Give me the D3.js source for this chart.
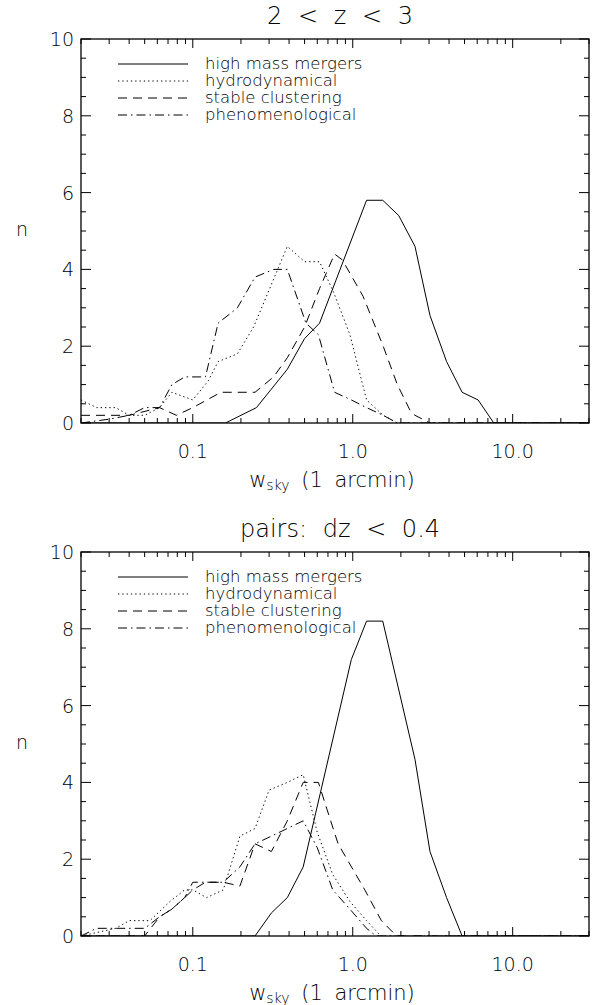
<!DOCTYPE html>
<html><head><meta charset="utf-8">
<script src="https://cdn.jsdelivr.net/npm/d3@7"></script>
<style>
body{margin:0;background:#fff}
text{font-family:"DejaVu Sans","Liberation Sans",sans-serif;font-weight:200;fill:#000}
</style>
</head><body>
<svg id="c" width="600" height="1005"></svg>
<script>
// ---- data ----
const seriesNames = ["high mass mergers", "hydrodynamical", "stable clustering", "phenomenological"];
const panelTitles = ["2 < z < 3", "pairs: dz < 0.4"];
const xTickValues = [0.1, 1, 10];
const xTickLabels = ["0.1", "1.0", "10.0"];
const yTickValues = [0, 2, 4, 6, 8, 10];
const yTickLabels = ["0", "2", "4", "6", "8", "10"];

// panel 1: 2 < z < 3   ([w_sky, n])
const zMergers = [[0.02,0],[0.16,0],[0.25,0.4],[0.39,1.4],[0.50,2.2],[0.62,2.6],[1.22,5.8],[1.54,5.8],[1.94,5.4],[2.45,4.6],[3.04,2.8],[3.86,1.6],[4.83,0.8],[6.08,0.6],[7.62,0],[30,0]];
const zHydro = [[0.02,0.6],[0.025,0.4],[0.033,0.4],[0.04,0.2],[0.05,0.2],[0.062,0.4],[0.074,0.8],[0.10,0.6],[0.125,1.1],[0.144,1.6],[0.19,1.8],[0.24,2.5],[0.39,4.6],[0.50,4.2],[0.62,4.2],[0.76,3.4],[0.96,2.3],[1.22,0.6],[1.55,0.2],[1.9,0],[30,0]];
const zStable = [[0.02,0.2],[0.04,0.2],[0.062,0.4],[0.079,0.2],[0.10,0.4],[0.15,0.8],[0.245,0.8],[0.32,1.2],[0.39,1.7],[0.50,2.5],[0.62,3.5],[0.77,4.4],[0.86,4.25],[1.16,3.3],[1.55,2.0],[1.9,1.0],[2.3,0.3],[2.45,0.2],[3.04,0],[30,0]];
const zPheno = [[0.02,0],[0.03,0.1],[0.04,0.2],[0.05,0.4],[0.062,0.4],[0.074,1.0],[0.089,1.2],[0.12,1.2],[0.144,2.6],[0.19,3.0],[0.245,3.8],[0.32,4.0],[0.39,4.0],[0.51,2.6],[0.61,2.3],[0.77,0.8],[0.98,0.6],[1.22,0.4],[1.55,0.2],[1.9,0],[30,0]];

// panel 2: pairs dz < 0.4
const pMergers = [[0.02,0],[0.245,0],[0.31,0.6],[0.39,1.0],[0.49,1.8],[0.98,7.2],[1.22,8.2],[1.54,8.2],[2.45,4.6],[3.04,2.2],[3.86,1.0],[4.83,0],[30,0]];
const pHydro = [[0.02,0],[0.033,0.2],[0.04,0.4],[0.054,0.4],[0.072,0.9],[0.089,1.2],[0.10,1.2],[0.122,1.0],[0.155,1.2],[0.197,2.6],[0.245,2.8],[0.30,3.8],[0.39,4.0],[0.49,4.2],[0.6,2.7],[0.75,1.6],[0.96,0.9],[1.22,0.4],[1.5,0],[30,0]];
const pStable = [[0.02,0],[0.05,0],[0.062,0.5],[0.074,0.7],[0.089,1.0],[0.10,1.2],[0.12,1.4],[0.155,1.4],[0.197,1.3],[0.245,2.4],[0.31,2.2],[0.39,3.0],[0.49,4.0],[0.61,4.0],[0.69,3.3],[0.81,2.4],[1.19,1.2],[1.51,0.4],[1.88,0],[30,0]];
const pPheno = [[0.02,0],[0.025,0.2],[0.05,0.2],[0.062,0.5],[0.074,0.7],[0.089,1.0],[0.10,1.4],[0.155,1.4],[0.197,1.8],[0.245,2.4],[0.31,2.6],[0.39,2.8],[0.49,3.0],[0.6,2.3],[0.75,1.2],[0.96,0.7],[1.22,0.2],[1.4,0],[30,0]];

const panelSeries = [[zMergers, zHydro, zStable, zPheno], [pMergers, pHydro, pStable, pPheno]];

// ---- styles ----
const dashes = [null, "1.3,3", "9,6", "9,4,1.5,4"];
const panelTops = [39, 552];
const H = 384, L = 81, R = 589;

const svg = d3.select("#c");
const x = d3.scaleLog().domain([0.02, 30]).range([L, R]);

// minor tick positions for log axis
const minorX = [];
[0.01, 0.1, 1, 10].forEach(d => { for (let m = 1; m <= 9; m++) { const v = m * d; if (v >= 0.02 - 1e-9 && v <= 30 + 1e-9) minorX.push(v); } });
const minorY = d3.range(0, 10.01, 0.5);

panelTops.forEach((top, pi) => {
  const y = d3.scaleLinear().domain([0, 10]).range([top + H, top]);
  const g = svg.append("g");
  const cid = "clip" + pi;
  g.append("clipPath").attr("id", cid).append("rect")
    .attr("x", L).attr("y", top).attr("width", R - L).attr("height", H);

  const line = d3.line().x(d => x(d[0])).y(d => y(d[1]));
  panelSeries[pi].forEach((s, si) => {
    g.append("path").attr("d", line(s)).attr("clip-path", `url(#${cid})`)
      .attr("fill", "none").attr("stroke", "#000").attr("stroke-width", 1)
      .attr("stroke-dasharray", dashes[si]);
  });

  // frame
  g.append("rect").attr("x", L).attr("y", top).attr("width", R - L).attr("height", H)
    .attr("fill", "none").attr("stroke", "#000").attr("stroke-width", 1.3);

  // x ticks (bottom and top, inward)
  minorX.forEach(v => {
    const major = xTickValues.some(t => Math.abs(t - v) < 1e-9);
    const len = major ? 9 : 5;
    const px = x(v);
    g.append("line").attr("x1", px).attr("x2", px).attr("y1", top + H).attr("y2", top + H - len).attr("stroke", "#000");
    g.append("line").attr("x1", px).attr("x2", px).attr("y1", top).attr("y2", top + len).attr("stroke", "#000");
  });
  // y ticks
  minorY.forEach(v => {
    const major = yTickValues.some(t => Math.abs(t - v) < 1e-9);
    const len = major ? 10 : 5;
    const py = y(v);
    g.append("line").attr("x1", L).attr("x2", L + len).attr("y1", py).attr("y2", py).attr("stroke", "#000");
    g.append("line").attr("x1", R).attr("x2", R - len).attr("y1", py).attr("y2", py).attr("stroke", "#000");
  });

  // tick labels
  xTickValues.forEach((v, i) => {
    g.append("text").attr("x", x(v)).attr("y", top + H + 35).attr("text-anchor", "middle")
      .attr("font-size", 19).text(xTickLabels[i]);
  });
  yTickValues.forEach((v, i) => {
    g.append("text").attr("x", 74).attr("y", y(v) + 7).attr("text-anchor", "end")
      .attr("font-size", 19).text(yTickLabels[i]);
  });

  // axis titles
  const xl = g.append("text").attr("x", 332).attr("y", top + H + 64).attr("text-anchor", "middle")
    .attr("font-size", 21).attr("word-spacing", 5);
  xl.append("tspan").text("w");
  xl.append("tspan").attr("font-size", 14).attr("dy", 3).text("sky");
  xl.append("tspan").attr("dy", -3).text(" (1 arcmin)");

  g.append("text").attr("x", 22).attr("y", top + H / 2 + 5)
    .attr("text-anchor", "middle").attr("font-size", 19).text("n");

  g.append("text").attr("x", 340).attr("y", top - 15).attr("text-anchor", "middle")
    .attr("font-size", 24).attr("word-spacing", 8).text(panelTitles[pi]);

  // legend
  seriesNames.forEach((name, si) => {
    const ly = top + 25 + si * 17;
    g.append("line").attr("x1", 118).attr("x2", 188).attr("y1", ly).attr("y2", ly)
      .attr("stroke", "#000").attr("stroke-width", 1).attr("stroke-dasharray", dashes[si]);
    g.append("text").attr("x", 205).attr("y", ly + 5).attr("font-size", 16.5).text(name);
  });
});
</script>
</body></html>
